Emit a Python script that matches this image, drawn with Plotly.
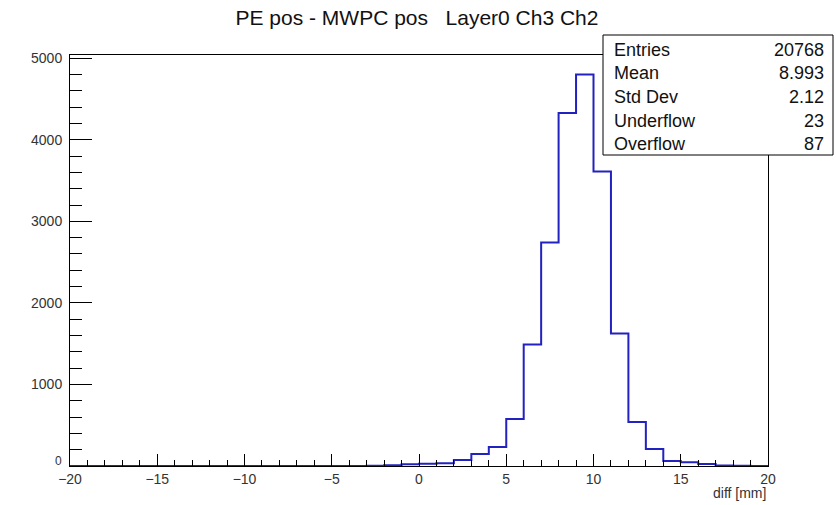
import numpy as np
import plotly.graph_objects as go

# ---- data ----
x_low = -20
x_high = 20
bin_width = 1
counts = [0, 0, 0, 0, 0, 0, 0, 0, 0, 0,          # -20 .. -11
          0, 0, 0, 0, 0, 0, 0, 2, 8, 22,         # -10 .. -1
          28, 35, 73, 147, 232, 575, 1490, 2740, 4330, 4800,   # 0 .. 9
          3610, 1625, 540, 210, 62, 45, 25, 5, 2, 0]           # 10 .. 19

y_tick_values = [1000, 2000, 3000, 4000, 5000]
y_zero_label = "0"
title_text = "PE pos - MWPC pos\u00a0\u00a0\u00a0Layer0 Ch3 Ch2"
x_title = "diff [mm]"
stat_names = ["Entries", "Mean", "Std Dev", "Underflow", "Overflow"]
stat_values = ["20768", "8.993", "2.12", "23", "87"]

# ---- figure ----
edges = np.arange(x_low, x_high + bin_width, bin_width)
ys = list(counts) + [counts[-1]]

FONT = "Liberation Sans, Arial, Helvetica, sans-serif"
W, H = 836, 505
L, R, T, B = 70, 68, 55, 39
pw = W - L - R
ph = H - T - B

def px_x(p):
    return (p - L) / pw

def px_y(p):
    return (H - B - p) / ph

fig = go.Figure()
fig.add_trace(go.Scatter(
    x=edges, y=ys, mode="lines", line=dict(shape="hv", color="#2222c0", width=2),
    hoverinfo="skip", showlegend=False))

ymax = max(counts) * 1.05

fig.update_layout(
    width=W, height=H,
    margin=dict(l=L, r=R, t=T, b=B, pad=0),
    paper_bgcolor="white", plot_bgcolor="white",
    font=dict(family=FONT, color="#222"),
    title=dict(text=title_text, x=417 / W, xanchor="center", y=1 - 18 / H, yanchor="middle",
               xref="container", yref="container", font=dict(size=21, color="#111", family=FONT)),
    xaxis=dict(range=[x_low, x_high], showgrid=False, zeroline=False,
               showline=True, linecolor="black", linewidth=1, mirror=True,
               ticks="inside", ticklen=12, tickwidth=1, tickcolor="black",
               tick0=0, dtick=5, tickfont=dict(size=14, color="#333"),
               minor=dict(dtick=1, ticks="inside", ticklen=6, tickcolor="black", tickwidth=1, showgrid=False)),
    yaxis=dict(range=[0, ymax], showgrid=False, zeroline=False,
               showline=True, linecolor="black", linewidth=1, mirror=True,
               ticks="inside", ticklen=22, tickwidth=1, tickcolor="black",
               tickmode="array", tickvals=y_tick_values, tickfont=dict(size=14, color="#333"),
               ticklabelstandoff=4,
               minor=dict(tick0=0, dtick=200, ticks="inside", ticklen=12, tickcolor="black", tickwidth=1, showgrid=False)),
)

# small "0" label on the y axis (as ROOT draws it)
fig.add_annotation(text=y_zero_label, xref="paper", yref="y", x=px_x(64), y=0, yshift=5,
                   xanchor="right", yanchor="middle", showarrow=False,
                   font=dict(size=12, color="#333", family=FONT))

# x-axis title
fig.add_annotation(text=x_title, xref="paper", yref="paper", x=1, y=px_y(493),
                   xanchor="right", yanchor="middle", showarrow=False,
                   font=dict(size=14, color="#333", family=FONT))

# stats box
bx0, bx1, by0, by1 = 603, 833, 35, 155
fig.add_shape(type="rect", xref="paper", yref="paper",
              x0=px_x(bx0), x1=px_x(bx1), y0=px_y(by1), y1=px_y(by0),
              fillcolor="white", line=dict(color="black", width=1), layer="above")
row_y = [50, 73, 97, 121, 144]
for name, val, ry in zip(stat_names, stat_values, row_y):
    fig.add_annotation(text=name, xref="paper", yref="paper", x=px_x(612), y=px_y(ry),
                       xanchor="left", yanchor="middle", showarrow=False,
                       font=dict(size=18, color="#111", family=FONT))
    fig.add_annotation(text=val, xref="paper", yref="paper", x=px_x(826), y=px_y(ry),
                       xanchor="right", yanchor="middle", showarrow=False,
                       font=dict(size=18, color="#111", family=FONT))

fig.write_html("out.html")
